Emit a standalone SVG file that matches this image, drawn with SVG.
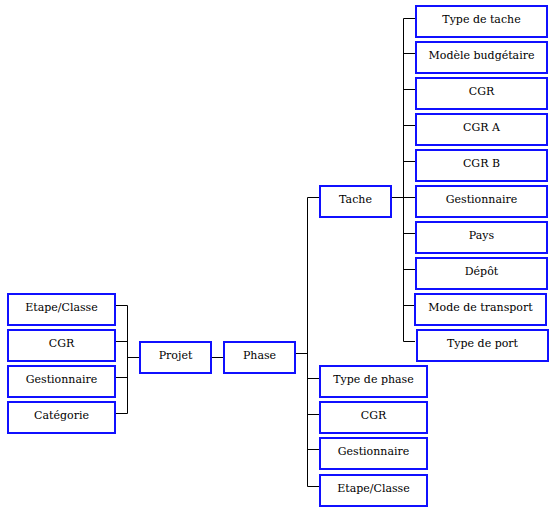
<svg xmlns="http://www.w3.org/2000/svg" width="553" height="516" viewBox="0 0 553 516">
<style>
.b{fill:#fff;stroke:#1010ff;stroke-width:2}
.t{font-family:"DejaVu Serif","Liberation Serif",serif;font-size:11px;fill:#000;text-anchor:middle}
.c{fill:none;stroke:#000;stroke-width:1}
</style>
<rect width="553" height="516" fill="#fff"/>
<g id="connectors">
<path class="c" d="M116 305.5H127.5M116 341.5H127.5M116 377.5H127.5M116 413.5H127.5M127.5 305.5V413.5M127.5 357.5H139"/>
<path class="c" d="M212 357.5H223"/>
<path class="c" d="M296 353.5H307.5M307.5 197.5V486.5M307.5 197.5H319M307.5 378.5H319M307.5 414.5H319M307.5 449.5H319M307.5 486.5H319"/>
<path class="c" d="M392 197.5H403.5M403.5 18.5V341.5M403.5 18.5H415M403.5 53.5H415M403.5 89.5H415M403.5 125.5H415M403.5 161.5H415M403.5 197.5H415M403.5 233.5H415M403.5 269.5H415M403.5 305.5H415M403.5 341.5H415"/>
</g>
<g id="n-etape1"><rect class="b" x="8" y="294" width="107" height="31"/><text class="t" x="61.5" y="311">Etape/Classe</text></g>
<g id="n-cgr1"><rect class="b" x="8" y="330" width="107" height="31"/><text class="t" x="61.5" y="347">CGR</text></g>
<g id="n-gest1"><rect class="b" x="8" y="366" width="107" height="31"/><text class="t" x="61.5" y="383">Gestionnaire</text></g>
<g id="n-cat"><rect class="b" x="8" y="402" width="107" height="31"/><text class="t" x="61.5" y="419">Catégorie</text></g>
<g id="n-projet"><rect class="b" x="140" y="342" width="71" height="31"/><text class="t" x="175.5" y="359">Projet</text></g>
<g id="n-phase"><rect class="b" x="224" y="342" width="71" height="31"/><text class="t" x="259.5" y="359">Phase</text></g>
<g id="n-tache"><rect class="b" x="320" y="186" width="71" height="31"/><text class="t" x="355.5" y="203">Tache</text></g>
<g id="n-typetache"><rect class="b" x="416" y="6" width="131" height="31"/><text class="t" x="481.5" y="23">Type de tache</text></g>
<g id="n-modele"><rect class="b" x="416" y="42" width="131" height="31"/><text class="t" x="481.5" y="59">Modèle budgétaire</text></g>
<g id="n-cgr2"><rect class="b" x="416" y="78" width="131" height="31"/><text class="t" x="481.5" y="95">CGR</text></g>
<g id="n-cgra"><rect class="b" x="416" y="114" width="131" height="31"/><text class="t" x="481.5" y="131">CGR A</text></g>
<g id="n-cgrb"><rect class="b" x="416" y="150" width="131" height="31"/><text class="t" x="481.5" y="167">CGR B</text></g>
<g id="n-gest2"><rect class="b" x="416" y="186" width="131" height="31"/><text class="t" x="481.5" y="203">Gestionnaire</text></g>
<g id="n-pays"><rect class="b" x="416" y="222" width="131" height="31"/><text class="t" x="481.5" y="239">Pays</text></g>
<g id="n-depot"><rect class="b" x="416" y="258" width="131" height="31"/><text class="t" x="481.5" y="275">Dépôt</text></g>
<g id="n-mode"><rect class="b" x="415" y="294" width="131" height="31"/><text class="t" x="480.5" y="311">Mode de transport</text></g>
<g id="n-port"><rect class="b" x="417" y="330" width="131" height="31"/><text class="t" x="482.5" y="347">Type de port</text></g>
<g id="n-typephase"><rect class="b" x="320" y="366" width="107" height="31"/><text class="t" x="373.5" y="383">Type de phase</text></g>
<g id="n-cgr3"><rect class="b" x="320" y="402" width="107" height="31"/><text class="t" x="373.5" y="419">CGR</text></g>
<g id="n-gest3"><rect class="b" x="320" y="438" width="107" height="31"/><text class="t" x="373.5" y="455">Gestionnaire</text></g>
<g id="n-etape2"><rect class="b" x="320" y="475" width="107" height="31"/><text class="t" x="373.5" y="492">Etape/Classe</text></g>
</svg>
